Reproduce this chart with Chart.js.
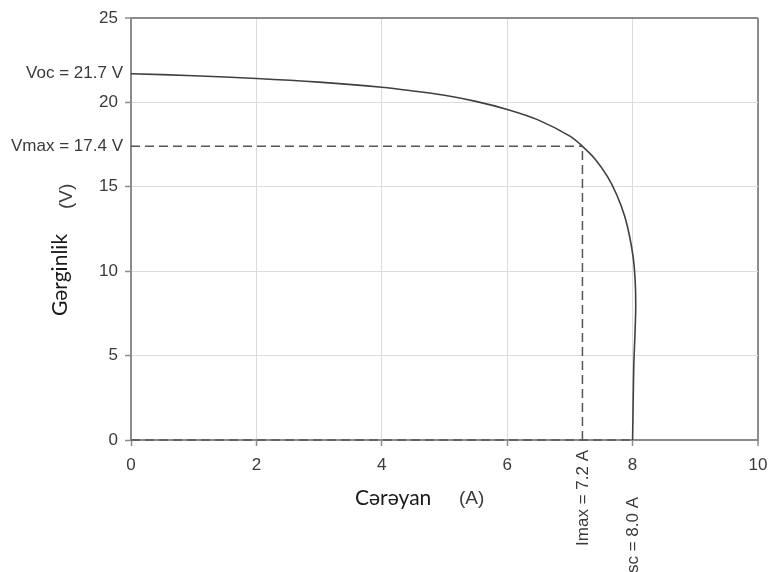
<!DOCTYPE html>
<html>
<head>
<meta charset="utf-8">
<script src="https://cdn.jsdelivr.net/npm/chart.js@4.4.1/dist/chart.umd.min.js"></script>
<style>
  html, body { margin: 0; padding: 0; background: #fff; }
  canvas { display: block; }
</style>
</head>
<body>
<canvas id="ivChart" width="768" height="572"></canvas>
<script>
// Datos de la curva I-V (corriente en A, voltaje en V)
const currentValues = [0, 1, 2, 3, 4, 4.5, 5, 5.5, 6, 6.5, 7.0, 7.2, 7.4, 7.6, 7.75, 7.87, 7.95, 8.01, 8.04, 8.05, 8.04, 8.02, 8.01, 8.0];
const voltageValues = [21.7, 21.58, 21.42, 21.2, 20.9, 20.68, 20.42, 20.06, 19.58, 18.95, 18.0, 17.4, 16.65, 15.6, 14.5, 13.3, 12.1, 10.8, 9.5, 8.0, 6.5, 4.5, 2.5, 0];

// Puntos característicos
const vocValue = 21.7;
const vmaxValue = 17.4;
const imaxValue = 7.2;
const iscValue = 8.0;

// Etiquetas
const vocLabel = 'Voc = 21.7 V';
const vmaxLabel = 'Vmax = 17.4 V';
const imaxLabel = 'Imax = 7.2 A';
const iscLabel = 'Isc = 8.0 A';
const xTitle = 'Cərəyan';
const xUnit = '(A)';
const yTitle = 'Gərginlik';
const yUnit = '(V)';

const xTicks = [0, 2, 4, 6, 8, 10];
const yTicks = [0, 5, 10, 15, 20, 25];

const curvePoints = currentValues.map((c, i) => ({ x: c, y: voltageValues[i] }));

const frameColor = '#8c8c8c';
const dashColor = '#555555';
const labelFamily = '"Liberation Sans", Arial, sans-serif';
const labelFont = '17px ' + labelFamily;
const unitFont = '19px ' + labelFamily;
const titleFont = '21px Lato, "Noto Sans", sans-serif';

// Etiquetas adicionales dibujadas sobre las escalas
const annotationPlugin = {
    id: 'ivLabels',
    afterDraw(chart) {
        const ctx = chart.ctx;
        const x = chart.scales.x;
        const y = chart.scales.y;
        const area = chart.chartArea;
        ctx.save();

        // Voc y Vmax a la izquierda del eje
        ctx.font = labelFont;
        ctx.fillStyle = '#3a3a3a';
        ctx.textAlign = 'right';
        ctx.textBaseline = 'middle';
        ctx.fillText(vocLabel, area.left - 8, y.getPixelForValue(vocValue));
        ctx.fillText(vmaxLabel, area.left - 8, y.getPixelForValue(vmaxValue));

        // Imax e Isc verticales bajo el eje x
        [[imaxLabel, imaxValue, 10], [iscLabel, iscValue, 57]].forEach(([text, val, off]) => {
            ctx.save();
            ctx.translate(x.getPixelForValue(val) + 1, area.bottom + off);
            ctx.rotate(-Math.PI / 2);
            ctx.textAlign = 'right';
            ctx.textBaseline = 'middle';
            ctx.fillText(text, 0, 0);
            ctx.restore();
        });

        // Títulos de los ejes
        ctx.textBaseline = 'middle';
        ctx.textAlign = 'left';
        ctx.font = titleFont;
        ctx.fillStyle = '#1a1a1a';
        ctx.fillText(xTitle, 355, area.bottom + 58);
        ctx.font = unitFont;
        ctx.fillStyle = '#3a3a3a';
        ctx.fillText(xUnit, 459, area.bottom + 59);

        ctx.save();
        ctx.translate(60, 316);
        ctx.rotate(-Math.PI / 2);
        ctx.font = titleFont;
        ctx.fillStyle = '#1a1a1a';
        ctx.fillText(yTitle, 0, 0);
        ctx.restore();

        ctx.save();
        ctx.translate(67, 209);
        ctx.rotate(-Math.PI / 2);
        ctx.font = unitFont;
        ctx.fillStyle = '#3a3a3a';
        ctx.fillText(yUnit, 0, 0);
        ctx.restore();

        ctx.restore();
    }
};

const dashedStyle = {
    borderColor: dashColor,
    borderWidth: 1.5,
    borderDash: [9, 5],
    pointRadius: 0,
    showLine: true,
    clip: false,
    tension: 0
};

const ctx = document.getElementById('ivChart').getContext('2d');
new Chart(ctx, {
    type: 'scatter',
    data: {
        datasets: [
            {
                label: 'I-V',
                data: curvePoints,
                borderColor: '#404040',
                borderWidth: 1.6,
                pointRadius: 0,
                showLine: true,
                tension: 0.35,
                order: 0
            },
            Object.assign({ label: 'Vmax', data: [{ x: 0, y: vmaxValue }, { x: imaxValue, y: vmaxValue }], order: 1 }, dashedStyle),
            Object.assign({ label: 'Imax', data: [{ x: imaxValue, y: 0 }, { x: imaxValue, y: vmaxValue }], order: 1 }, dashedStyle),
            Object.assign({ label: 'Cero', data: [{ x: 0, y: 0 }, { x: iscValue, y: 0 }], order: 1 }, dashedStyle)
        ]
    },
    options: {
        responsive: false,
        animation: false,
        layout: { padding: { top: 18, right: 10, left: 0, bottom: 0 } },
        plugins: {
            legend: { display: false },
            tooltip: { enabled: false }
        },
        scales: {
            x: {
                type: 'linear',
                min: 0,
                max: 10,
                afterFit: (scale) => {
                    scale.height = 132;
                    scale.paddingLeft = 0;
                    scale.paddingRight = 0;
                },
                afterBuildTicks: (scale) => { scale.ticks = xTicks.map(v => ({ value: v })); },
                ticks: {
                    font: { family: labelFamily, size: 17 },
                    color: '#3a3a3a',
                    padding: 9
                },
                grid: {
                    color: (c) => c.tick && c.tick.value === 10 ? frameColor : '#dcdcdc',
                    lineWidth: (c) => c.tick && c.tick.value === 10 ? 2 : 1,
                    tickColor: frameColor,
                    tickLength: 6,
                    tickWidth: 1.5
                },
                border: { color: frameColor, width: 2 }
            },
            y: {
                type: 'linear',
                min: 0,
                max: 25,
                afterFit: (scale) => {
                    scale.width = 131;
                    scale.paddingTop = 0;
                    scale.paddingBottom = 0;
                },
                afterBuildTicks: (scale) => { scale.ticks = yTicks.map(v => ({ value: v })); },
                ticks: {
                    font: { family: labelFamily, size: 17 },
                    color: '#3a3a3a',
                    padding: 7
                },
                grid: {
                    color: (c) => c.tick && c.tick.value === 25 ? frameColor : '#dcdcdc',
                    lineWidth: (c) => c.tick && c.tick.value === 25 ? 2 : 1,
                    tickColor: frameColor,
                    tickLength: 6,
                    tickWidth: 1.5
                },
                border: { color: frameColor, width: 2 }
            }
        }
    },
    plugins: [annotationPlugin]
});
</script>
</body>
</html>
